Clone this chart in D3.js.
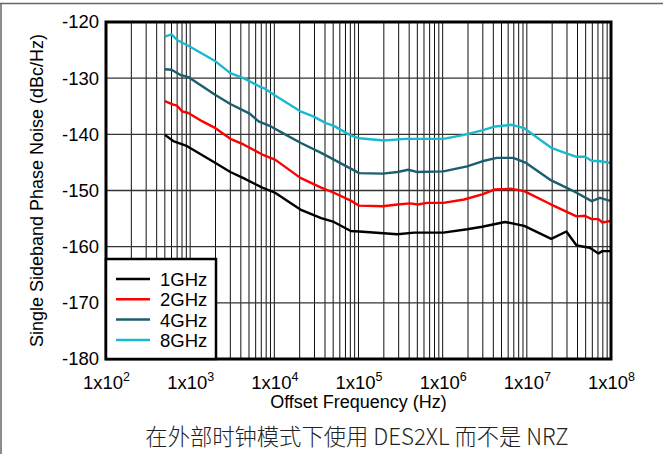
<!DOCTYPE html>
<html>
<head>
<meta charset="utf-8">
<script src="https://cdn.jsdelivr.net/npm/d3@7"></script>
<style>
	body { margin: 0; background: #fff; }
	text { font-family: "Liberation Sans", Arial, sans-serif; }
</style>
</head>
<body>
<div id="chart"></div>
<script>
// [offset Hz, dBc/Hz]
const ghz1 = [
	[500, -140.1], [630, -141.2], [890, -142.0], [2000, -145.1], [3000, -146.7],
	[4300, -147.8], [7200, -149.5], [10200, -150.4], [20400, -153.4], [36000, -154.9],
	[51000, -155.6], [81000, -157.2], [102000, -157.3], [290000, -157.8], [460000, -157.5],
	[1020000, -157.5], [1950000, -156.9], [2950000, -156.45], [5500000, -155.6], [9300000, -156.3],
	[19500000, -158.6], [29500000, -157.3], [39000000, -159.8], [56000000, -160.2],
	[71000000, -161.2], [79000000, -160.8], [100000000, -160.8]
];
const ghz2 = [
	[500, -134.1], [630, -134.7], [700, -134.9], [800, -135.9], [950, -136.2],
	[1400, -137.7], [2000, -138.9], [3000, -140.8], [4300, -141.8], [7200, -143.6],
	[10200, -144.5], [20400, -147.75], [36000, -149.5], [51000, -150.4], [81000, -151.8],
	[102000, -152.7], [195000, -152.8], [290000, -152.5], [410000, -152.3], [510000, -152.5],
	[650000, -152.2], [1020000, -152.2], [1800000, -151.6], [2950000, -150.7], [4200000, -149.8],
	[6600000, -149.7], [9300000, -150.1], [19500000, -152.5], [39000000, -154.6],
	[49000000, -154.5], [59000000, -155.1], [71000000, -155.1], [79000000, -155.7], [100000000, -155.4]
];
const ghz4 = [
	[500, -128.4], [600, -128.5], [760, -129.4], [950, -129.8], [2000, -133.0],
	[3000, -134.6], [5100, -136.3], [6500, -137.7], [9100, -138.6], [12000, -139.6],
	[20400, -141.5], [36000, -143.3], [51000, -144.5], [72000, -145.7], [102000, -146.9],
	[195000, -147.0], [290000, -146.7], [390000, -146.3], [490000, -146.7], [1020000, -146.6],
	[1950000, -145.7], [2950000, -144.8], [4400000, -144.2], [6900000, -144.2], [9800000, -145.1],
	[19500000, -148.2], [29500000, -149.5], [39000000, -150.4], [59000000, -151.9],
	[74000000, -151.3], [100000000, -151.9]
];
const ghz8 = [
	[500, -122.6], [600, -122.2], [700, -123.2], [1000, -124.4], [2000, -127.0],
	[3000, -129.1], [4300, -130.0], [6500, -131.4], [7600, -131.8], [10200, -133.1],
	[20400, -135.9], [29000, -136.8], [41000, -138.0], [51000, -138.5], [81000, -140.2],
	[102000, -140.7], [200000, -141.1], [360000, -140.8], [650000, -140.8], [1020000, -140.8],
	[1800000, -140.1], [2950000, -139.3], [4200000, -138.6], [6600000, -138.3], [9300000, -138.9],
	[19500000, -142.4], [29500000, -143.4], [39000000, -144.0], [49000000, -144.0],
	[59000000, -144.7], [74000000, -144.8], [100000000, -145.1]
];

const seriesNames = ['1GHz', '2GHz', '4GHz', '8GHz'];
const seriesData = [ghz1, ghz2, ghz4, ghz8];
const seriesColors = ['#000000', '#ff0000', '#1b5e70', '#19b9cf'];
const yTicks = [-120, -130, -140, -150, -160, -170, -180];
const xExponents = [2, 3, 4, 5, 6, 7, 8];

const width = 663, height = 454;
const margin = {top: 22, right: 52, bottom: 95, left: 106};
const pw = width - margin.left - margin.right;
const ph = height - margin.top - margin.bottom;

const svg = d3.select('#chart')
	.append('svg')
	.attr('width', width)
	.attr('height', height);

// outer frame of the figure (top and left edges only)
svg.append('line')
	.attr('x1', 0).attr('x2', width).attr('y1', 3.5).attr('y2', 3.5)
	.attr('stroke', '#666').attr('stroke-width', 1.5);
svg.append('line')
	.attr('x1', 1).attr('x2', 1).attr('y1', 3).attr('y2', height)
	.attr('stroke', '#666').attr('stroke-width', 1.5);

const g = svg.append('g')
	.attr('transform', `translate(${margin.left},${margin.top})`);

const x = d3.scaleLog()
	.domain([1e2, 1e8])
	.range([0, pw]);

const y = d3.scaleLinear()
	.domain([-180, -120])
	.range([ph, 0]);

// vertical grid: every 1..9 x decade
const xGrid = [];
for (let e = 2; e < 8; e++) {
	for (let m = 1; m < 10; m++) xGrid.push(m * Math.pow(10, e));
}
g.append('g')
	.selectAll('line')
	.data(xGrid)
	.join('line')
	.attr('x1', d => x(d)).attr('x2', d => x(d))
	.attr('y1', 0).attr('y2', ph)
	.attr('stroke', '#111')
	.attr('stroke-width', 1);

g.append('g')
	.selectAll('line')
	.data(yTicks)
	.join('line')
	.attr('x1', 0).attr('x2', pw)
	.attr('y1', d => y(d)).attr('y2', d => y(d))
	.attr('stroke', '#333')
	.attr('stroke-width', 1.3);

// y axis labels
const yAxis = d3.axisLeft(y)
	.tickValues(yTicks)
	.tickSize(0)
	.tickPadding(7)
	.tickFormat(d => d);
g.append('g')
	.call(yAxis)
	.call(a => a.select('.domain').remove())
	.call(a => a.selectAll('text')
		.attr('font-size', 18.5)
		.attr('fill', '#000')
		.attr('font-family', '"Liberation Sans", Arial, sans-serif'));

// x axis labels with superscripts
const xAxis = d3.axisBottom(x)
	.tickValues(xExponents.map(e => Math.pow(10, e)))
	.tickSize(0)
	.tickFormat('');
g.append('g')
	.attr('transform', `translate(0,${ph})`)
	.call(xAxis)
	.call(a => a.select('.domain').remove())
	.call(a => a.selectAll('.tick').each(function (d) {
		const t = d3.select(this).append('text')
			.attr('y', 30)
			.attr('text-anchor', 'middle')
			.attr('font-size', 18.5)
			.attr('font-family', '"Liberation Sans", Arial, sans-serif')
			.attr('fill', '#000');
		t.append('tspan').text('1x10');
		t.append('tspan')
			.attr('dy', -8)
			.attr('font-size', 12.5)
			.text(Math.round(Math.log10(d)));
	}));

// curves
const line = d3.line()
	.x(d => x(d[0]))
	.y(d => y(d[1]));

g.append('g')
	.selectAll('path')
	.data(seriesData)
	.join('path')
	.attr('d', line)
	.attr('fill', 'none')
	.attr('stroke', (d, i) => seriesColors[i])
	.attr('stroke-width', 2.4)
	.attr('stroke-linejoin', 'round');

// plot frame
g.append('rect')
	.attr('x', 0).attr('y', 0)
	.attr('width', pw).attr('height', ph)
	.attr('fill', 'none')
	.attr('stroke', '#000')
	.attr('stroke-width', 3);

// legend
const legend = g.append('g')
	.attr('transform', `translate(0,${ph - 100})`);
legend.append('rect')
	.attr('x', 0).attr('y', 0)
	.attr('width', 110).attr('height', 100)
	.attr('fill', '#fff')
	.attr('stroke', '#000')
	.attr('stroke-width', 2.5);
const items = legend.selectAll('g.item')
	.data(seriesNames)
	.join('g')
	.attr('class', 'item')
	.attr('transform', (d, i) => `translate(0,${20 + i * 20.3})`);
items.append('line')
	.attr('x1', 10).attr('x2', 44)
	.attr('stroke', (d, i) => seriesColors[i])
	.attr('stroke-width', 2.5);
items.append('text')
	.attr('x', 54)
	.attr('y', 7)
	.attr('font-size', 18.5)
	.text(d => d);

// axis titles
svg.append('text')
	.attr('x', margin.left + pw / 2)
	.attr('y', 408)
	.attr('text-anchor', 'middle')
	.attr('font-size', 18)
	.text('Offset Frequency (Hz)');

svg.append('text')
	.attr('transform', `translate(43,${margin.top + ph / 2}) rotate(-90)`)
	.attr('text-anchor', 'middle')
	.attr('font-size', 18)
	.text('Single Sideband Phase Noise (dBc/Hz)');

svg.append('text')
	.attr('x', 357)
	.attr('y', 445)
	.attr('text-anchor', 'middle')
	.attr('font-size', 22.3)
	.attr('fill', '#222')
	.style('font-family', '"Noto Sans CJK SC", "Liberation Sans", sans-serif')
	.style('font-weight', 300)
	.text('在外部时钟模式下使用 DES2XL 而不是 NRZ');
</script>
</body>
</html>
